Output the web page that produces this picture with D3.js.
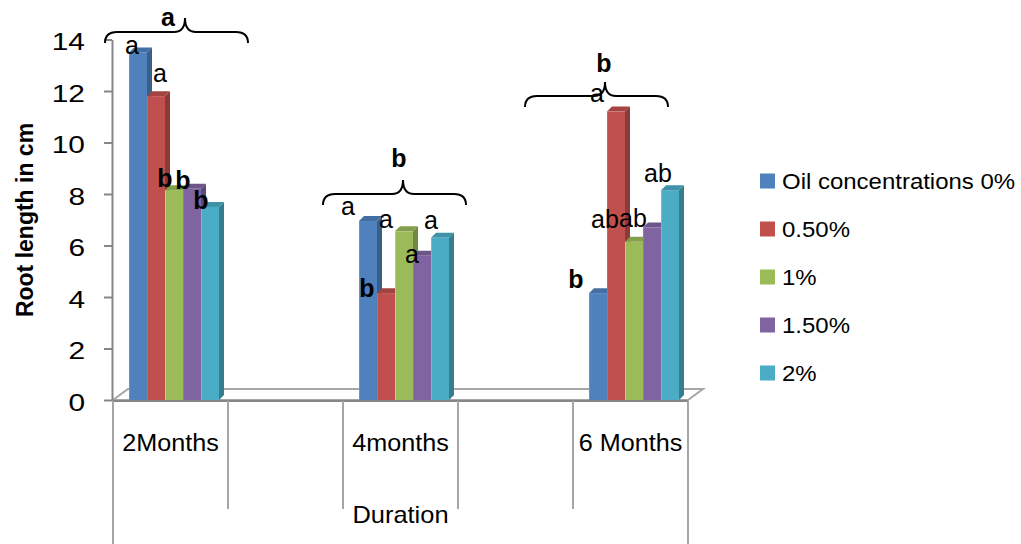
<!DOCTYPE html>
<html>
<head>
<meta charset="utf-8">
<script src="https://cdn.jsdelivr.net/npm/d3@7"></script>
<style>
  body { margin: 0; background: #fff; }
  text { font-family: "Liberation Sans", Arial, sans-serif; fill: #000; }
</style>
</head>
<body>
<div id="chart"></div>
<script>
var svgWidth = 1021;
var svgHeight = 544;

// chart data
var categories = ["2Months", "", "4months", "", "6 Months"];
var seriesNames = ["Oil concentrations 0%", "0.50%", "1%", "1.50%", "2%"];
var seriesColors = ["#4F81BD", "#C0504D", "#9BBB59", "#8064A2", "#4BACC6"];
var oil0 = [13.5, null, 6.95, null, 4.15];
var oil05 = [11.8, null, 4.15, null, 11.2];
var oil1 = [8.15, null, 6.55, null, 6.15];
var oil15 = [8.2, null, 5.6, null, 6.7];
var oil2 = [7.5, null, 6.3, null, 8.15];
var yTicks = [0, 2, 4, 6, 8, 10, 12, 14];
var xTitle = "Duration";
var yTitle = "Root length in cm";

// significance letters on each bar and over each group
var letters0 = ["a", null, "a", null, "b"];
var letters05 = ["a", null, "b", null, "a"];
var letters1 = ["b", null, "a", null, "ab"];
var letters15 = ["b", null, "a", null, "ab"];
var letters2 = ["b", null, "a", null, "ab"];
var groupLetters = ["a", null, "b", null, "b"];

var seriesValues = [oil0, oil05, oil1, oil15, oil2];
var seriesLetters = [letters0, letters05, letters1, letters15, letters2];

// layout of the hand placed letters: [dx from bar centre, dy from bar top]
var letterNudge = [
  [[-6, 2], null, [-20, -6], null, [-22, -5]],
  [[4, -14], null, [-19, 4], null, [-19, -10]],
  [[-9, -3], null, [-18, -3], null, [-29, -14]],
  [[-9, 0], null, [-10, 7], null, [-19, 0]],
  [[-9, 2], null, [-9, -9], null, [-12, -8]]
];
// brace: left offset from band, end level (axis units), letter dx / dy
var braceLayout = [
  {dx: -8, level: 13.86, tx: 63, ty: -6},
  null,
  {dx: -20, level: 7.57, tx: 76, ty: -27},
  null,
  {dx: -48, level: 11.38, tx: 79, ty: -24}
];

var depth = [5, -5];    // 3d offset of the bars
var floorDepth = [15, -11];

var svg = d3.select("#chart").append("svg")
    .attr("width", svgWidth)
    .attr("height", svgHeight);

var x0 = d3.scaleBand()
    .domain(d3.range(categories.length))
    .range([113, 688])
    .padding(0);

var x1 = d3.scaleBand()
    .domain(d3.range(seriesNames.length))
    .range([16, 106]);

var y = d3.scaleLinear()
    .domain([0, 14])
    .range([400, 39.5]);

// the original text is a bit wider than its height suggests
function stretched(g, x, yy, str, anchor, size, sx) {
    return g.append("text")
        .attr("transform", `translate(${x},${yy}) scale(${sx},1)`)
        .attr("text-anchor", anchor)
        .attr("font-size", size)
        .text(str);
}

// floor
var fl = x0.range();
svg.append("polygon")
    .attr("points", [
        [fl[0], y(0)], [fl[1], y(0)],
        [fl[1] + floorDepth[0], y(0) + floorDepth[1]],
        [fl[0] + floorDepth[0], y(0) + floorDepth[1]]
    ].join(" "))
    .attr("fill", "#fff")
    .attr("stroke", "#a6a6a6")
    .attr("stroke-width", 2);

// y axis
var yAxis = svg.append("g")
    .attr("transform", "translate(112,0)")
    .call(d3.axisLeft(y).tickValues(yTicks).tickSize(8).tickSizeOuter(0));
yAxis.select(".domain").attr("stroke", "#868686").attr("stroke-width", 2);
yAxis.selectAll(".tick line").attr("stroke", "#868686").attr("stroke-width", 2);
yAxis.selectAll(".tick text")
    .attr("x", null)
    .attr("dy", "0.36em")
    .attr("font-size", 23)
    .attr("font-family", "Liberation Sans, Arial, sans-serif")
    .attr("transform", "translate(-27,2) scale(1.3,1)");

// category axis (two levels)
var xAxis = svg.append("g");
xAxis.append("line")
    .attr("x1", fl[0]).attr("x2", fl[1])
    .attr("y1", y(0) + 1).attr("y2", y(0) + 1)
    .attr("stroke", "#868686").attr("stroke-width", 2);
var bounds = categories.map(function(c, i) { return x0(i); }).concat([fl[1]]);
xAxis.selectAll(".sep")
    .data(bounds)
    .enter()
    .append("line")
    .attr("x1", d => d).attr("x2", d => d)
    .attr("y1", y(0) + 1)
    .attr("y2", (d, i) => (i === 0 || i === bounds.length - 1) ? svgHeight : 509)
    .attr("stroke", "#a6a6a6")
    .attr("stroke-width", 2);
categories.forEach(function(c, i) {
    if (c) stretched(xAxis, x0(i) + x0.bandwidth() / 2, 451, c, "middle", 24, 1.05);
});
stretched(svg, (fl[0] + fl[1]) / 2, 523, xTitle, "middle", 24, 1.06);

// y title
svg.append("text")
    .attr("transform", "translate(33,220) rotate(-90)")
    .attr("text-anchor", "middle")
    .attr("font-size", 23)
    .attr("font-weight", "bold")
    .text(yTitle);

// 3d bars
var bars = svg.append("g");
categories.forEach(function(c, ci) {
    seriesValues.forEach(function(vals, si) {
        var v = vals[ci];
        if (v == null) return;
        var bx = x0(ci) + x1(si), w = x1.bandwidth();
        var top = y(v), bot = y(0);
        var col = d3.color(seriesColors[si]);
        bars.append("polygon")
            .attr("points", [[bx + w, top], [bx + w + depth[0], top + depth[1]],
                [bx + w + depth[0], bot + depth[1]], [bx + w, bot]].join(" "))
            .attr("fill", col.darker(0.9));
        bars.append("polygon")
            .attr("points", [[bx, top], [bx + depth[0], top + depth[1]],
                [bx + w + depth[0], top + depth[1]], [bx + w, top]].join(" "))
            .attr("fill", col.darker(0.45));
        bars.append("rect")
            .attr("x", bx).attr("y", top)
            .attr("width", w).attr("height", bot - top)
            .attr("fill", col);
        bars.append("line")
            .attr("x1", bx + 0.5).attr("x2", bx + 0.5)
            .attr("y1", top).attr("y2", bot)
            .attr("stroke", col.brighter(0.4)).attr("stroke-width", 1);
    });
});

// bar letters
var lab = svg.append("g");
seriesLetters.forEach(function(arr, si) {
    arr.forEach(function(t, ci) {
        if (!t) return;
        var n = letterNudge[si][ci];
        var cx = x0(ci) + x1(si) + x1.bandwidth() / 2;
        lab.append("text")
            .attr("x", cx + n[0])
            .attr("y", y(seriesValues[si][ci]) + n[1])
            .attr("text-anchor", "middle")
            .attr("font-size", 25)
            .attr("font-weight", t === "b" ? "bold" : "normal")
            .text(t);
    });
});

// braces over the groups
groupLetters.forEach(function(t, ci) {
    if (!t) return;
    var b = braceLayout[ci];
    var xa = x0(ci) + b.dx, xb = xa + 143, px = xa + 80;
    var ye = y(b.level), yl = ye - 11, yp = yl - 14;
    var p = d3.path();
    p.moveTo(xa, ye);
    p.quadraticCurveTo(xa, yl, xa + 12, yl);
    p.lineTo(px - 11, yl);
    p.quadraticCurveTo(px, yl, px, yp);
    p.quadraticCurveTo(px, yl, px + 11, yl);
    p.lineTo(xb - 12, yl);
    p.quadraticCurveTo(xb, yl, xb, ye);
    svg.append("path")
        .attr("d", p.toString())
        .attr("fill", "none")
        .attr("stroke", "#000")
        .attr("stroke-width", 2);
    svg.append("text")
        .attr("x", xa + b.tx)
        .attr("y", yl + b.ty)
        .attr("text-anchor", "middle")
        .attr("font-size", 25)
        .attr("font-weight", "bold")
        .text(t);
});

// legend
var legend = svg.append("g");
seriesNames.forEach(function(name, i) {
    var cy = 181 + i * 48;
    legend.append("rect")
        .attr("x", 760).attr("y", cy - 7.5)
        .attr("width", 15).attr("height", 15)
        .attr("fill", seriesColors[i]);
    stretched(legend, 782, cy + 8, name, "start", 22, 1.09);
});
</script>
</body>
</html>
